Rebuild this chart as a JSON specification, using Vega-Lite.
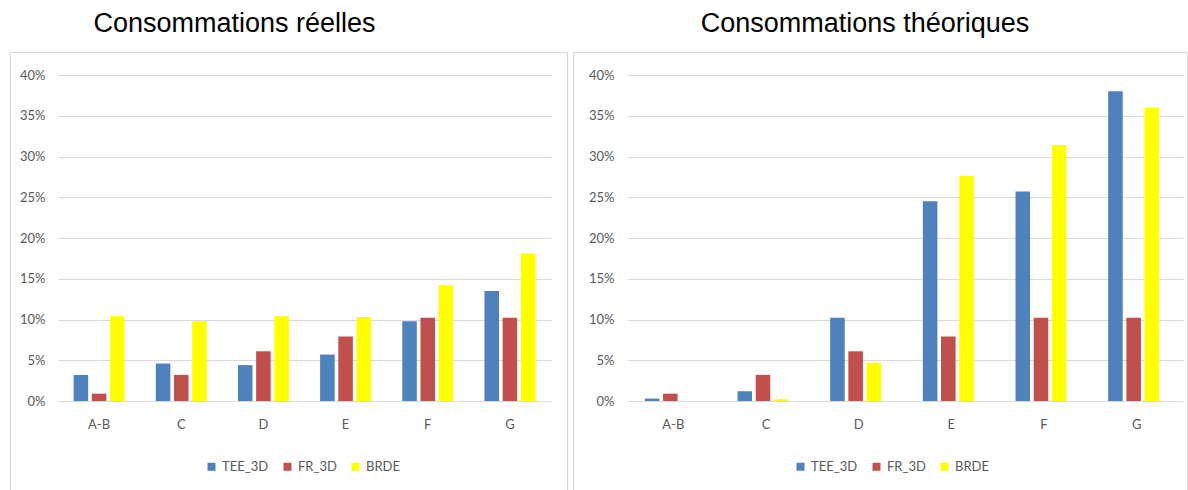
{
  "$schema": "https://vega.github.io/schema/vega-lite/v6.json",
  "padding": {"left": 9, "top": 9, "right": 0, "bottom": 0},
  "spacing": 4,
  "background": "white",
  "config": {
    "view": {"stroke": "#d9d9d9", "strokeWidth": 1},
    "font": "Lato",
    "title": {"font": "Liberation Sans", "fontSize": 27, "fontWeight": "normal", "color": "#000000", "baseline": "alphabetic", "offset": 14, "anchor": "middle"},
    "axisY": {"domain": false, "ticks": false, "grid": true, "gridColor": "#d9d9d9", "gridWidth": 1, "labelFont": "Lato", "labelFontSize": 13, "labelColor": "#595959", "labelPadding": 13, "title": null, "values": [0, 0.05, 0.1, 0.15, 0.2, 0.25, 0.3, 0.35, 0.4], "format": ".0%"},
    "axisX": {"domain": false, "ticks": false, "grid": false, "labelFont": "Lato", "labelFontSize": 13, "labelColor": "#595959", "labelPadding": 17, "title": null, "labelAngle": 0, "offset": -90},
    "legend": {"orient": "none", "direction": "horizontal", "title": null, "symbolType": "square", "symbolSize": 64, "symbolStrokeWidth": 0, "labelFont": "Lato", "labelFontSize": 13, "labelColor": "#595959", "labelOffset": 4, "columnPadding": 12, "legendY": 408}
  },
  "datasets": {
    "reel": [
      {"classe": "A-B", "serie": "TEE_3D", "valeur": 0.032},
      {"classe": "A-B", "serie": "FR_3D", "valeur": 0.009},
      {"classe": "A-B", "serie": "BRDE", "valeur": 0.104},
      {"classe": "C", "serie": "TEE_3D", "valeur": 0.046},
      {"classe": "C", "serie": "FR_3D", "valeur": 0.032},
      {"classe": "C", "serie": "BRDE", "valeur": 0.098},
      {"classe": "D", "serie": "TEE_3D", "valeur": 0.044},
      {"classe": "D", "serie": "FR_3D", "valeur": 0.061},
      {"classe": "D", "serie": "BRDE", "valeur": 0.104},
      {"classe": "E", "serie": "TEE_3D", "valeur": 0.057},
      {"classe": "E", "serie": "FR_3D", "valeur": 0.079},
      {"classe": "E", "serie": "BRDE", "valeur": 0.103},
      {"classe": "F", "serie": "TEE_3D", "valeur": 0.098},
      {"classe": "F", "serie": "FR_3D", "valeur": 0.102},
      {"classe": "F", "serie": "BRDE", "valeur": 0.142},
      {"classe": "G", "serie": "TEE_3D", "valeur": 0.135},
      {"classe": "G", "serie": "FR_3D", "valeur": 0.102},
      {"classe": "G", "serie": "BRDE", "valeur": 0.181}
    ],
    "theo": [
      {"classe": "A-B", "serie": "TEE_3D", "valeur": 0.003},
      {"classe": "A-B", "serie": "FR_3D", "valeur": 0.009},
      {"classe": "A-B", "serie": "BRDE", "valeur": 0.0},
      {"classe": "C", "serie": "TEE_3D", "valeur": 0.012},
      {"classe": "C", "serie": "FR_3D", "valeur": 0.032},
      {"classe": "C", "serie": "BRDE", "valeur": 0.002},
      {"classe": "D", "serie": "TEE_3D", "valeur": 0.102},
      {"classe": "D", "serie": "FR_3D", "valeur": 0.061},
      {"classe": "D", "serie": "BRDE", "valeur": 0.047},
      {"classe": "E", "serie": "TEE_3D", "valeur": 0.245},
      {"classe": "E", "serie": "FR_3D", "valeur": 0.079},
      {"classe": "E", "serie": "BRDE", "valeur": 0.276},
      {"classe": "F", "serie": "TEE_3D", "valeur": 0.257},
      {"classe": "F", "serie": "FR_3D", "valeur": 0.102},
      {"classe": "F", "serie": "BRDE", "valeur": 0.314},
      {"classe": "G", "serie": "TEE_3D", "valeur": 0.380},
      {"classe": "G", "serie": "FR_3D", "valeur": 0.102},
      {"classe": "G", "serie": "BRDE", "valeur": 0.360}
    ]
  },
  "resolve": {"scale": {"color": "independent", "x": "independent", "y": "independent"}, "legend": {"color": "independent"}},
  "hconcat": [
    {
      "title": {"text": "Consommations réelles", "dx": -54},
      "width": 557,
      "height": 439,
      "data": {"name": "reel"},
      "mark": {"type": "bar"},
      "encoding": {
        "x": {"field": "classe", "type": "nominal", "sort": ["A-B", "C", "D", "E", "F", "G"], "scale": {"range": [48, 541], "paddingInner": 0.38, "paddingOuter": 0.19}},
        "xOffset": {"field": "serie", "type": "nominal", "sort": ["TEE_3D", "FR_3D", "BRDE"], "scale": {"paddingInner": 0.2}},
        "y": {"field": "valeur", "type": "quantitative", "scale": {"domain": [0, 0.4], "range": [349, 23], "nice": false}, "axis": {"offset": -48}},
        "color": {"field": "serie", "type": "nominal", "sort": ["TEE_3D", "FR_3D", "BRDE"], "scale": {"domain": ["TEE_3D", "FR_3D", "BRDE"], "range": ["#4f81bd", "#c0504d", "#ffff00"]}, "legend": {"legendX": 195}}
      }
    },
    {
      "title": {"text": "Consommations théoriques", "dx": -15},
      "width": 614,
      "height": 439,
      "data": {"name": "theo"},
      "mark": {"type": "bar"},
      "encoding": {
        "x": {"field": "classe", "type": "nominal", "sort": ["A-B", "C", "D", "E", "F", "G"], "scale": {"range": [54, 610], "paddingInner": 0.385, "paddingOuter": 0.1925}},
        "xOffset": {"field": "serie", "type": "nominal", "sort": ["TEE_3D", "FR_3D", "BRDE"], "scale": {"paddingInner": 0.2}},
        "y": {"field": "valeur", "type": "quantitative", "scale": {"domain": [0, 0.4], "range": [349, 23], "nice": false}, "axis": {"offset": -54}},
        "color": {"field": "serie", "type": "nominal", "sort": ["TEE_3D", "FR_3D", "BRDE"], "scale": {"domain": ["TEE_3D", "FR_3D", "BRDE"], "range": ["#4f81bd", "#c0504d", "#ffff00"]}, "legend": {"legendX": 221}}
      }
    }
  ]
}
